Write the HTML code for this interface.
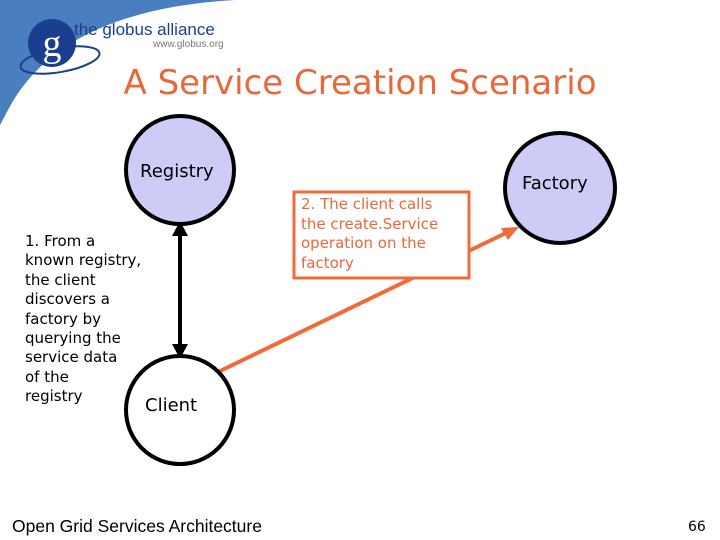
<!DOCTYPE html>
<html><head><style>
body{margin:0;width:720px;height:540px;overflow:hidden;background:#fff;font-family:"DejaVu Sans","Liberation Sans",sans-serif;}
.t{position:absolute;white-space:nowrap}
</style></head><body>
<svg width="720" height="540" style="position:absolute;left:0;top:0">
<path d="M0,0 L235,0 Q60,10 8,110 L0,125 Z" fill="#4a7fbf"/>
<ellipse cx="60" cy="60" rx="40" ry="12" fill="none" stroke="#1a3f8f" stroke-width="2" transform="rotate(-10 60 60)"/>
<circle cx="52" cy="43" r="24" fill="#1a3f8f"/>
<text x="52" y="56" font-family="Liberation Serif" font-size="38" fill="#fff" text-anchor="middle">g</text>
<text x="74" y="35" font-family="Liberation Sans" font-size="17" fill="#1a3f8f">the globus alliance</text>
<text x="153" y="47" font-family="Liberation Sans" font-size="10" fill="#777">www.globus.org</text>
<line x1="180" y1="232" x2="180" y2="348" stroke="#000" stroke-width="4"/>
<polygon points="180,221 172,236 188,236" fill="#000"/>
<polygon points="180,359 172,344 188,344" fill="#000"/>
<line x1="218" y1="372" x2="508" y2="232" stroke="#f06a3a" stroke-width="4"/>
<polygon points="519,227 501,228 508,240" fill="#f06a3a"/>
<circle cx="180" cy="170" r="54" fill="#ccccf7" stroke="#000" stroke-width="4"/>
<circle cx="180" cy="410" r="54" fill="#fff" stroke="#000" stroke-width="4"/>
<circle cx="560" cy="188" r="55" fill="#ccccf7" stroke="#000" stroke-width="4"/>
<rect x="294" y="192" width="175" height="86" fill="#fff" stroke="#f06a3a" stroke-width="3"/>
</svg>
<div class="t" style="left:0;width:720px;text-align:center;top:63px;font-size:34px;color:#e8683a;"><span style="position:relative;left:0px">A Service Creation Scenario</span></div>
<div class="t" style="left:140px;top:161px;font-size:18px">Registry</div>
<div class="t" style="left:145px;top:395px;font-size:18px">Client</div>
<div class="t" style="left:522px;top:173px;font-size:18px">Factory</div>
<div class="t" style="left:301px;top:195px;font-size:15px;line-height:19.5px;color:#e8683a">2. The client calls<br>the create.Service<br>operation on the<br>factory</div>
<div class="t" style="left:25px;top:232px;font-size:15px;line-height:19.4px">1. From a<br>known registry,<br>the client<br>discovers a<br>factory by<br>querying the<br>service data<br>of the<br>registry</div>
<div class="t" style="left:12px;top:516px;font-size:17.5px;font-family:'Liberation Sans',sans-serif">Open Grid Services Architecture</div>
<div class="t" style="left:688px;top:519px;font-size:14px">66</div>
</body></html>
